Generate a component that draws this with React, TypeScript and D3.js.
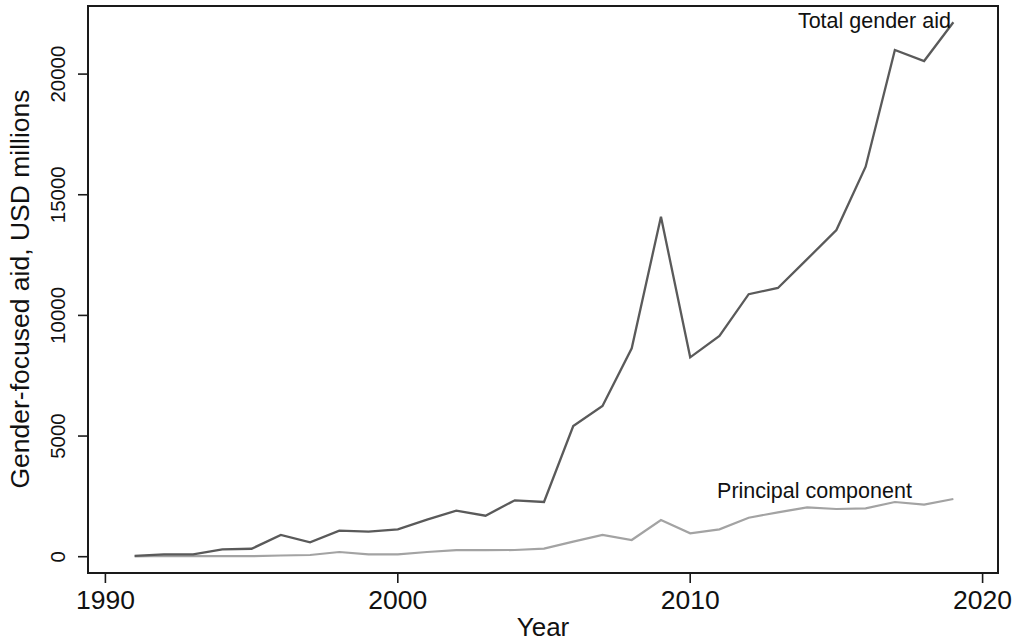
import React from "react";
import * as d3 from "d3";

const years: number[] = [1991,1992,1993,1994,1995,1996,1997,1998,1999,2000,2001,2002,2003,2004,2005,2006,2007,2008,2009,2010,2011,2012,2013,2014,2015,2016,2017,2018,2019];
const totalAid: number[] = [30,100,100,306,330,900,596,1078,1036,1135,1540,1906,1700,2337,2267,5416,6245,8636,14090,8263,9146,10880,11136,12330,13540,16163,20999,20543,22146];
const principalAid: number[] = [10,30,20,20,20,50,70,195,100,100,195,270,270,278,332,622,900,692,1521,969,1135,1616,1840,2047,1977,2006,2267,2155,2391];
const xTicks: number[] = [1990, 2000, 2010, 2020];
const yTicks: number[] = [0, 5000, 10000, 15000, 20000];
const seriesLabels = [
  { text: "Total gender aid", year: 2016.3, value: 21900 },
  { text: "Principal component", year: 2014.25, value: 2420 },
];

const W = 1012, H = 641;
const frame = { left: 88, right: 998, top: 6, bottom: 573 };

export default function App() {
  const x = d3.scaleLinear().domain([1990, 2020]).range([105.4, 982.6]);
  const y = d3.scaleLinear().domain([0, 20000]).range([556.7, 74.1]);
  const line = d3.line<number>().x((_, i) => x(years[i])).y((d) => y(d));
  const font = "Arial, 'Liberation Sans', Helvetica, sans-serif";
  return (
    <svg width={W} height={H} style={{ position: "absolute", left: 0, top: 0, background: "#fff" }} fontFamily={font}>
      <rect x={0} y={0} width={W} height={H} fill="#fff" />
      <path d={line(principalAid) || ""} fill="none" stroke="#a3a3a3" strokeWidth={2.2} strokeLinejoin="miter" />
      <path d={line(totalAid) || ""} fill="none" stroke="#5a5a5a" strokeWidth={2.3} strokeLinejoin="miter" />
      <rect x={frame.left} y={frame.top} width={frame.right - frame.left} height={frame.bottom - frame.top} fill="none" stroke="#1a1a1a" strokeWidth={2} />
      {yTicks.map((t) => (
        <g key={"y" + t}>
          <line x1={78} x2={frame.left} y1={y(t)} y2={y(t)} stroke="#1a1a1a" strokeWidth={1.6} />
          <text transform={`translate(65,${y(t)}) rotate(-90)`} textAnchor="middle" fontSize={20.5} fill="#111">{t}</text>
        </g>
      ))}
      {xTicks.map((t) => (
        <g key={"x" + t}>
          <line x1={x(t)} x2={x(t)} y1={frame.bottom} y2={583} stroke="#1a1a1a" strokeWidth={1.6} />
          <text x={x(t)} y={609} textAnchor="middle" fontSize={26.5} fill="#111">{t}</text>
        </g>
      ))}
      <text x={543} y={636} textAnchor="middle" fontSize={26} fill="#111">Year</text>
      <text transform={`translate(29,289) rotate(-90)`} textAnchor="middle" fontSize={26.5} fill="#111">Gender-focused aid, USD millions</text>
      {seriesLabels.map((l) => (
        <text key={l.text} x={x(l.year)} y={y(l.value)} textAnchor="middle" fontSize={21.5} fill="#111">{l.text}</text>
      ))}
    </svg>
  );
}
